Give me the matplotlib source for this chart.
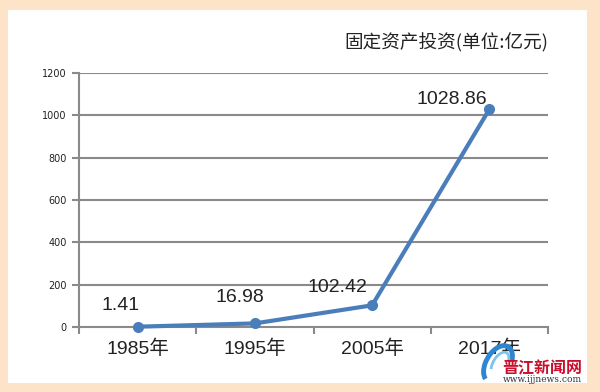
import matplotlib
matplotlib.use("Agg")
import matplotlib.pyplot as plt
from matplotlib.patches import Arc

plt.rcParams['font.family'] = ['Noto Sans CJK SC', 'DejaVu Sans']
num_font = ['Liberation Sans', 'Noto Sans CJK SC']

categories = ["1985年", "1995年", "2005年", "2017年"]
values = [1.41, 16.98, 102.42, 1028.86]
value_labels = ["1.41", "16.98", "102.42", "1028.86"]
label_offsets_px = [(-17, 21), (-15, 26), (-35, 18), (-38, 10)]
yticks = [0, 200, 400, 600, 800, 1000, 1200]
title = "固定资产投资(单位:亿元)"

W, H = 600, 392
fig = plt.figure(figsize=(W / 100, H / 100), dpi=100)
fig.patch.set_facecolor("#FDE4C9")
bg = fig.add_axes([8 / W, 1 - 383 / H, 579 / W, 373 / H], zorder=-5)
bg.set_facecolor("white")
bg.set_xticks([]); bg.set_yticks([])
for s in bg.spines.values():
    s.set_visible(False)

ax = fig.add_axes([79 / W, 1 - 327 / H, 469 / W, 254 / H], zorder=1)
ax.set_facecolor("none")
grid_c = "#8a8a8a"
x = list(range(len(categories)))
ax.set_xlim(-0.5, len(categories) - 0.5)
ax.set_ylim(0, 1200)
ax.set_yticks(yticks)
ax.set_yticklabels([str(v) for v in yticks], fontsize=7, color="#222222",
                   family=["DejaVu Sans"])
for v in yticks[1:]:
    ax.axhline(v, color=grid_c, lw=1.5, zorder=1)
for s in ["top", "right"]:
    ax.spines[s].set_visible(False)
for s in ["left", "bottom"]:
    ax.spines[s].set_color(grid_c)
    ax.spines[s].set_linewidth(1.5)
ax.tick_params(axis="y", length=5, width=1.5, color=grid_c, pad=4)
ax.set_xticks([i + 0.5 for i in range(-1, len(categories))], minor=False)
ax.set_xticklabels([])
ax.tick_params(axis="x", which="major", length=5, width=1.5, color=grid_c)
ax.set_xticks(x, minor=True)
ax.set_xticklabels(categories, minor=True, fontsize=14, color="#222222",
                   family=num_font)
ax.tick_params(axis="x", which="minor", length=0, pad=9)

ax.plot(x, values, color="#4A7EBB", lw=3, marker="o", markersize=7,
        zorder=3, clip_on=False)
for xi, v, lab, (dx, dy) in zip(x, values, value_labels, label_offsets_px):
    ax.annotate(lab, (xi, v), xytext=(dx * 0.72, dy * 0.72),
                textcoords="offset points", ha="center", va="center",
                fontsize=14, color="#222222", family=num_font)

fig.text(548 / W, 1 - 43 / H, title, ha="right", va="center", fontsize=13.4,
         color="#222222")

# watermark
wm = fig.add_axes([0, 0, 1, 1], zorder=4)
wm.set_xlim(0, W); wm.set_ylim(H, 0)
wm.axis("off")
wm.add_patch(Arc((498, 364), 24, 40, angle=30, theta1=100, theta2=320,
                 color="#2E86D1", lw=3.5))
wm.add_patch(Arc((500, 364), 14, 26, angle=30, theta1=120, theta2=310,
                 color="#7EC3EE", lw=2))
wm.text(582, 368, "晋江新闻网", ha="right", va="center",
        fontsize=11.5, color="#C8102E", fontweight="bold", style="italic")
wm.text(582, 379, "www.ijjnews.com", ha="right", va="center",
        fontsize=6.5, color="#333333", family=["DejaVu Serif"])

fig.savefig("out.png", dpi=100, facecolor=fig.get_facecolor())
